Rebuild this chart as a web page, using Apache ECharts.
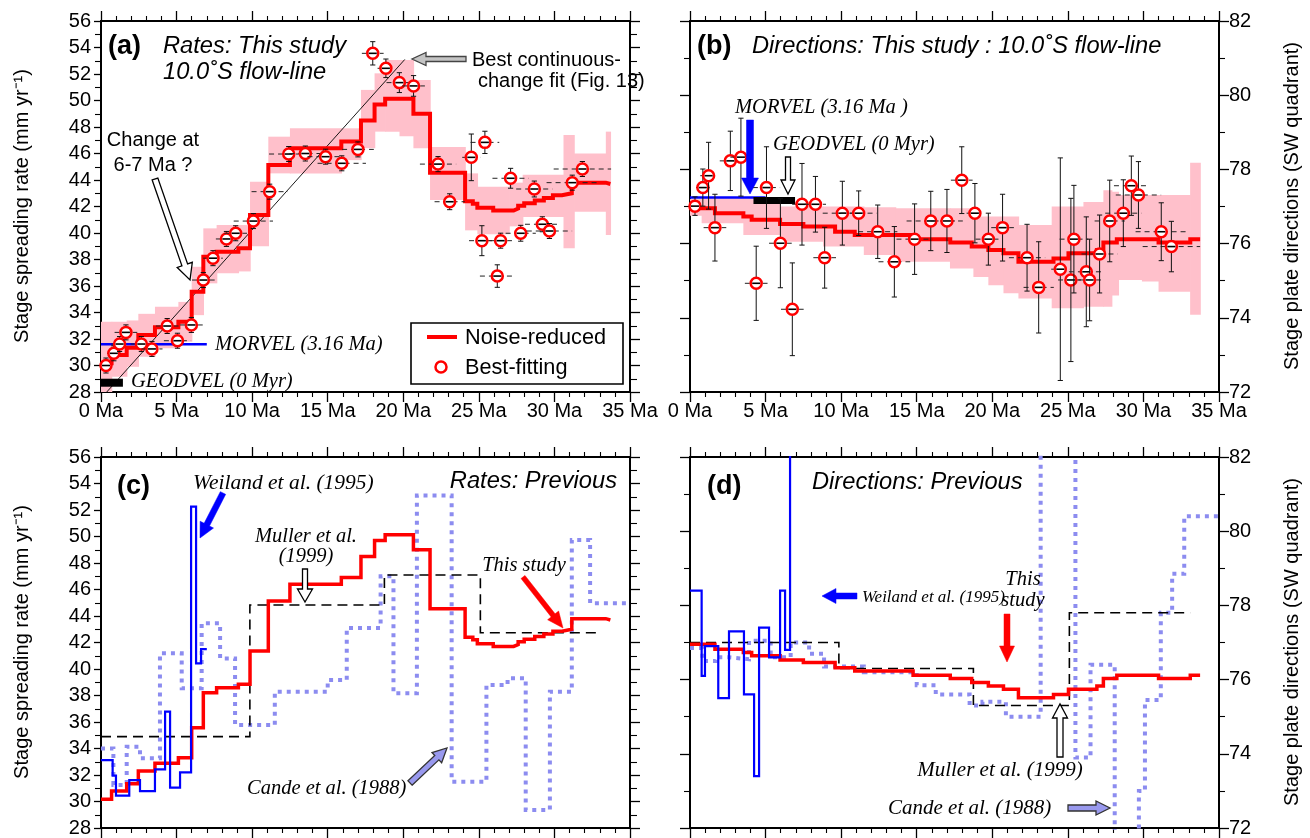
<!DOCTYPE html>
<html>
<head>
<meta charset="utf-8">
<script src="https://cdn.jsdelivr.net/npm/echarts@6.0.0/dist/echarts.min.js"></script>
<style>
  html, body { margin: 0; padding: 0; background: #fff; }
  #chart { width: 1310px; height: 838px; }
</style>
</head>
<body>
<div id="chart"></div>
<script>
// ---------------------------------------------------------------------------
// Best-fitting stage solutions (shared stage ages for rates and directions)
// ---------------------------------------------------------------------------
const stageAge = [0.33, 0.85, 1.23, 1.65, 2.67, 3.37, 4.38, 5.06, 5.98, 6.77,
  7.41, 8.30, 8.91, 10.08, 11.16, 12.42, 13.52, 14.86, 15.93, 17.00,
  17.98, 18.85, 19.74, 20.68, 22.30, 23.07, 24.50, 25.20, 25.40, 26.22,
  26.44, 27.10, 27.77, 28.67, 29.20, 29.67, 31.18, 31.85];
// half of the age window used for each stage (Myr)
const stageHalfWidth = [0.33, 0.45, 0.55, 0.75, 0.7, 0.7, 0.75, 0.9, 0.75, 0.75,
  0.65, 0.7, 0.75, 1.3, 1.2, 1.3, 1.05, 1.2, 1.6, 1.05,
  0.72, 0.55, 0.85, 0.75, 1.2, 1.0, 0.6, 0.85, 0.95, 1.15,
  0.75, 1.2, 1.0, 1.2, 1.15, 1.5, 1.7, 1.9];
const rateBest = [30.0, 30.92, 31.62, 32.5, 31.62, 31.25, 32.98, 31.87, 33.06, 36.45,
  38.1, 39.55, 39.98, 40.9, 43.12, 45.96, 46.0, 45.76, 45.26, 46.31,
  53.56, 52.43, 51.35, 51.1, 45.2, 42.36, 45.71, 39.42, 46.84, 36.75,
  39.42, 44.13, 39.98, 43.32, 40.66, 40.15, 43.8, 44.83];
const rateErr = [0.3, 0.3, 0.35, 0.35, 0.3, 0.3, 0.3, 0.3, 0.3, 0.35,
  0.4, 0.4, 0.4, 0.4, 0.4, 0.4, 0.35, 0.35, 0.35, 0.45,
  0.88, 0.7, 0.75, 0.78, 0.57, 0.6, 1.76, 1.13, 0.84, 0.85,
  0.55, 0.75, 0.6, 0.6, 0.55, 0.55, 0.35, 0.4];
const dirBest = [77.01, 77.51, 77.83, 76.43, 78.23, 78.33, 74.93, 77.51, 76.01, 74.23,
  77.06, 77.06, 75.62, 76.82, 76.82, 76.32, 75.51, 76.12, 76.61, 76.61,
  77.71, 76.82, 76.12, 76.43, 75.62, 74.82, 75.31, 75.02, 76.12, 75.24,
  75.02, 75.72, 76.61, 76.82, 77.56, 77.31, 76.32, 75.92];
const dirErr = [0.25, 0.5, 0.9, 0.9, 0.8, 1.05, 1.0, 1.1, 1.2, 1.25,
  1.1, 0.75, 0.82, 0.86, 0.6, 0.72, 0.95, 0.95, 0.8, 0.85,
  0.9, 0.8, 0.7, 0.9, 0.9, 1.23, 3.0, 2.2, 1.45, 1.48,
  1.1, 1.05, 1.1, 0.9, 0.8, 0.9, 0.78, 0.68];

// ---------------------------------------------------------------------------
// Noise-reduced solutions: stage edges (Ma) and the value held over each stage
// ---------------------------------------------------------------------------
const nrRateEdges = [0, 0.7, 1.7, 2.47, 3.57, 5.12, 6.0, 6.77, 7.65, 9.09, 9.86, 11.07,
  12.5, 15.9, 17.2, 18.1, 18.8, 20.67, 21.77, 24.09, 24.6, 24.9, 25.95, 27.3, 27.6,
  28.0, 28.7, 29.3, 29.9, 30.5, 31.15, 33.4, 33.7];
const nrRate = [30.17, 30.8, 31.34, 32.3, 32.88, 33.3, 35.57, 38.21, 38.59, 38.84, 41.36,
  45.13, 46.39, 46.9, 48.5, 49.7, 50.13, 49.0, 44.55, 42.4, 42.2, 41.9, 41.7, 41.85,
  42.05, 42.25, 42.45, 42.65, 42.85, 43.0, 43.8, 43.7];
const nrDirEdges = [0, 1.65, 3.53, 4.08, 5.96, 7.5, 9.6, 10.9, 14.76, 17.22, 18.64, 19.74,
  20.74, 21.73, 24.05, 25.04, 26.92, 27.35, 28.24, 31.0, 33.1, 33.75];
const nrDir = [76.95, 76.82, 76.73, 76.64, 76.53, 76.46, 76.32, 76.23, 76.12, 76.03, 75.92,
  75.83, 75.74, 75.51, 75.6, 75.74, 75.83, 76.03, 76.12, 76.03, 76.12];

// Uncertainty envelopes: [fromAge, toAge, low, high]
const rateBand = [
  [0, 0.7, 28.0, 33.3], [0.7, 1.7, 29.15, 33.3], [1.7, 2.47, 29.9, 33.4],
  [2.47, 3.57, 30.66, 33.9], [3.57, 5.12, 31.3, 34.43], [5.12, 6.0, 31.8, 34.8],
  [6.0, 6.77, 33.8, 37.45], [6.77, 7.65, 36.2, 40.35], [7.65, 9.09, 36.96, 40.6],
  [9.09, 9.86, 37.1, 40.6], [9.86, 11.07, 39.0, 43.87], [11.07, 12.5, 44.5, 47.27],
  [12.5, 15.9, 44.5, 47.9], [15.9, 17.2, 45.5, 47.9], [17.2, 18.1, 46.4, 50.8],
  [18.1, 18.8, 47.65, 52.05], [18.8, 19.75, 47.65, 53.06], [19.75, 20.67, 47.3, 53.06],
  [20.67, 21.77, 46.4, 51.55], [21.77, 24.09, 42.5, 46.5], [24.09, 24.9, 40.2, 44.5],
  [24.9, 27.0, 39.9, 43.5], [27.0, 27.9, 40.5, 43.8], [27.9, 30.6, 41.2, 44.4],
  [30.6, 31.3, 38.84, 47.4], [31.3, 33.4, 41.6, 46.0], [33.4, 33.7, 39.85, 47.65]
];
const dirBand = [
  [0, 0.77, 76.75, 77.2], [0.77, 3.53, 76.55, 77.22], [3.53, 5.96, 76.23, 77.22],
  [5.96, 8.8, 76.05, 77.0], [8.8, 11.5, 75.92, 77.0], [11.5, 13.6, 75.69, 76.98],
  [13.6, 17.2, 75.51, 76.95], [17.2, 18.75, 75.33, 76.95], [18.75, 19.74, 75.1, 76.73],
  [19.74, 20.74, 74.88, 76.73], [20.74, 21.73, 74.66, 76.73], [21.73, 23.93, 74.52, 76.5],
  [23.93, 26.03, 74.26, 77.0], [26.03, 27.35, 74.3, 77.12], [27.35, 27.9, 74.3, 77.44],
  [27.9, 28.34, 74.6, 77.4], [28.34, 29.9, 75.02, 77.31], [29.9, 31.0, 74.98, 77.31],
  [31.0, 33.09, 74.7, 77.31], [33.09, 33.75, 74.08, 78.18]
];

// Best continuous-change fit (age, rate)
const bestFitLine = [[0.38, 28.0], [20.1, 53.1]];

// Present-day reference models: value and the age span it is drawn over
const morvelRate = 31.6, morvelRateSpan = [0, 7.0];
const geodvelRate = 28.7, geodvelRateSpan = [0, 1.45];
const morvelDir = 77.24, morvelDirSpan = [0, 5.0];
const geodvelDir = 77.16, geodvelDirSpan = [4.2, 6.95];

// ---------------------------------------------------------------------------
// Previous studies (stage edges in Ma, then rate and direction per stage)
// ---------------------------------------------------------------------------
const mullerEdges = [0, 9.85, 18.75, 25.1, 33.1];
const mullerRate = [34.9, 44.83, 47.09, 42.74];
const mullerDir = [77.0, 76.3, 75.3, 77.8];

const weilandEdges = [0, 0.77, 0.99, 1.87, 2.58, 3.57, 4.24, 4.57, 5.23, 5.96, 6.29, 6.62, 7.0];
const weilandRate = [33.13, 31.95, 30.44, 31.62, 30.79, 32.42, 36.78, 31.04, 32.2, 52.25, 40.43, 41.5];
const weilandDir = [78.4, 76.1, 76.9, 75.5, 77.3, 75.6, 73.4, 77.4, 76.6, 78.4, 76.8, 86.0];

const candeRateEdges = [0, 0.82, 1.7, 2.58, 3.9, 5.34, 6.66, 7.88, 8.87, 11.5, 15.0, 16.26,
  18.5, 19.35, 20.9, 23.2, 25.5, 26.9, 28.1, 29.7, 31.15, 32.36, 35];
const candeRate = [34.0, 31.25, 34.13, 33.26, 41.18, 38.54, 43.45, 40.8, 35.77, 38.29, 39.17,
  43.1, 47.0, 38.17, 53.1, 31.5, 38.8, 39.3, 29.36, 38.29, 49.74, 44.96];
const candeDirEdges = [0, 0.82, 1.7, 2.58, 3.9, 5.34, 6.66, 7.88, 8.87, 11.5, 15.0, 16.26,
  18.5, 19.35, 20.9, 23.2, 25.5, 26.5, 28.1, 29.7, 30.1, 31.15, 31.9, 32.7, 35];
const candeDir = [76.85, 76.5, 76.6, 76.55, 77.05, 76.6, 77.0, 76.7, 76.35, 76.2, 75.85, 75.6,
  75.3, 75.4, 75.0, 84.0, 73.9, 76.4, 70.0, 73.0, 75.45, 77.8, 78.85, 80.4];

// Axis ranges and tick labels
const ageRange = [0, 35], ageStep = 5;
const rateRange = [28, 56], dirRange = [72, 82], valueStep = 2;
const ageLabel = v => v + ' Ma';

// ---------------------------------------------------------------------------
const SANS = '"Liberation Sans", Arial, Helvetica, sans-serif';
const SERIF = '"Liberation Serif", "Times New Roman", serif';
const RED = '#ff0000', BLUE = '#0000ff', PINK = '#ffc0cb', LILAC = '#8c8cf0';

function steps(edges, values) {
  const out = values.map((v, i) => [edges[i], v]);
  out.push([edges[edges.length - 1], values[values.length - 1]]);
  return out;
}
function bestRows(vals, errs) {
  return stageAge.map((t, i) => [t, vals[i], errs[i], stageHalfWidth[i]]);
}

const grids = [
  { left: 101, top: 21, width: 529, height: 371 },
  { left: 690, top: 21, width: 529, height: 371 },
  { left: 101, top: 457, width: 529, height: 371 },
  { left: 690, top: 457, width: 529, height: 371 }
].map(g => Object.assign({ containLabel: false, outerBoundsMode: 'none' }, g));

function xAxis(g, pos, labels) {
  return {
    gridIndex: g, type: 'value', position: pos, min: ageRange[0], max: ageRange[1], interval: ageStep,
    axisLine: { show: true, onZero: false, lineStyle: { color: '#000', width: 2 } },
    axisTick: { show: true, inside: false, length: 10, lineStyle: { color: '#000', width: 1.3 } },
    minorTick: { show: true, splitNumber: 5, length: 5, lineStyle: { color: '#000', width: 1.1 } },
    splitLine: { show: false }, minorSplitLine: { show: false },
    axisLabel: { show: labels, margin: 9, formatter: ageLabel, color: '#000', fontSize: 20,
      fontFamily: SANS, showMinLabel: true, showMaxLabel: true }
  };
}
function yAxis(g, pos, range, labels, len, minorLen) {
  return {
    gridIndex: g, type: 'value', position: pos, min: range[0], max: range[1], interval: valueStep,
    axisLine: { show: true, onZero: false, lineStyle: { color: '#000', width: 2 } },
    axisTick: { show: true, inside: false, length: len, lineStyle: { color: '#000', width: 1.3 } },
    minorTick: { show: true, splitNumber: 2, length: minorLen, lineStyle: { color: '#000', width: 1.1 } },
    splitLine: { show: false }, minorSplitLine: { show: false },
    axisLabel: { show: labels, margin: 10, color: '#000', fontSize: 20, fontFamily: SANS,
      showMinLabel: true, showMaxLabel: true }
  };
}

const xAxes = [], yAxes = [];
[0, 1, 2, 3].forEach(g => {
  xAxes.push(xAxis(g, 'bottom', g < 2));
  xAxes.push(xAxis(g, 'top', false));
  const isRate = g % 2 === 0;
  const range = isRate ? rateRange : dirRange;
  yAxes.push(yAxis(g, 'left', range, isRate, isRate ? 7 : 10, 6));
  yAxes.push(yAxis(g, 'right', range, !isRate, 10, isRate ? 7 : 6));
});

// envelope rectangles
function renderBand(params, api) {
  const a = api.coord([api.value(0), api.value(3)]);
  const b = api.coord([api.value(1), api.value(2)]);
  return { type: 'rect', shape: { x: a[0], y: a[1], width: b[0] - a[0] + 0.7, height: b[1] - a[1] },
    style: { fill: PINK } };
}
// best-fitting stage: age window, error bar and circle
function renderBest(params, api) {
  const t = api.value(0), v = api.value(1), e = api.value(2), h = api.value(3);
  const c = api.coord([t, v]);
  const hi = api.coord([t, v + e]);
  const lo = api.coord([t, v - e]);
  const l = api.coord([t - h, v]);
  const r = api.coord([t + h, v]);
  const R = 5.5, cap = 2.6;
  const ink = { stroke: '#111', lineWidth: 1 };
  const top = Math.min(hi[1], c[1] - R - 2);
  const bot = Math.max(lo[1], c[1] + R + 2);
  const ch = [
    { type: 'line', shape: { x1: l[0], y1: c[1], x2: r[0], y2: c[1] },
      style: { stroke: '#222', lineWidth: 1, lineDash: [5, 4] } },
    { type: 'line', shape: { x1: c[0], y1: top, x2: c[0], y2: bot }, style: ink },
    { type: 'line', shape: { x1: c[0] - cap, y1: top, x2: c[0] + cap, y2: top }, style: ink },
    { type: 'line', shape: { x1: c[0] - cap, y1: bot, x2: c[0] + cap, y2: bot }, style: ink },
    { type: 'circle', shape: { cx: c[0], cy: c[1], r: R }, style: { fill: '#fff', stroke: RED, lineWidth: 2.5 } },
    { type: 'line', shape: { x1: c[0] - R + 1.5, y1: c[1], x2: c[0] + R - 1.5, y2: c[1] },
      style: { stroke: '#000', lineWidth: 1.6 } }
  ];
  return { type: 'group', children: ch };
}

function bandSeries(g, data) {
  return { type: 'custom', xAxisIndex: 2 * g, yAxisIndex: 2 * g, data, renderItem: renderBand,
    encode: { x: [0, 1], y: [2, 3] }, silent: true, z: 1 };
}
function bestSeries(g, data) {
  return { type: 'custom', xAxisIndex: 2 * g, yAxisIndex: 2 * g, data, renderItem: renderBest,
    encode: { x: 0, y: 1 }, silent: true, z: 6 };
}
function lineSeries(g, data, color, width, type, z, step) {
  return { type: 'line', xAxisIndex: 2 * g, yAxisIndex: 2 * g, data, step: step || false,
    symbol: 'none', clip: true, silent: true, z: z,
    lineStyle: { color, width, type: type || 'solid', cap: 'butt', join: 'miter' } };
}
function spanLine(span, v) { return [[span[0], v], [span[1], v]]; }

const series = [
  // (a) rates, this study
  bandSeries(0, rateBand),
  lineSeries(0, bestFitLine, '#000', 0.9, 'solid', 2),
  lineSeries(0, spanLine(morvelRateSpan, morvelRate), BLUE, 2.5, 'solid', 3),
  lineSeries(0, spanLine(geodvelRateSpan, geodvelRate), '#000', 8, 'solid', 3),
  lineSeries(0, steps(nrRateEdges, nrRate), RED, 4, 'solid', 4, 'end'),
  bestSeries(0, bestRows(rateBest, rateErr)),
  // (b) directions, this study
  bandSeries(1, dirBand),
  lineSeries(1, spanLine(morvelDirSpan, morvelDir), BLUE, 2.5, 'solid', 3),
  lineSeries(1, spanLine(geodvelDirSpan, geodvelDir), '#000', 7, 'solid', 3),
  lineSeries(1, steps(nrDirEdges, nrDir), RED, 4, 'solid', 4, 'end'),
  bestSeries(1, bestRows(dirBest, dirErr)),
  // (c) rates, previous
  lineSeries(2, steps(candeRateEdges, candeRate), LILAC, 4, [4, 5], 2, 'end'),
  lineSeries(2, steps(mullerEdges, mullerRate), '#000', 1.6, [10, 6], 3, 'end'),
  lineSeries(2, steps(nrRateEdges, nrRate), RED, 3.5, 'solid', 4, 'end'),
  lineSeries(2, steps(weilandEdges, weilandRate), BLUE, 2.2, 'solid', 5, 'end'),
  // (d) directions, previous
  lineSeries(3, steps(candeDirEdges, candeDir), LILAC, 4, [4, 5], 2, 'end'),
  lineSeries(3, steps(mullerEdges, mullerDir), '#000', 1.6, [10, 6], 3, 'end'),
  lineSeries(3, steps(nrDirEdges, nrDir), RED, 3.5, 'solid', 4, 'end'),
  lineSeries(3, steps(weilandEdges, weilandDir), BLUE, 2.2, 'solid', 5, 'end')
];

// ---------------------------------------------------------------------------
// Annotations
// ---------------------------------------------------------------------------
function txt(x, y, text, font, align, rot) {
  return { type: 'text', x, y, rotation: rot || 0, z: 100,
    style: { text, fill: '#000', font, align: align || 'left', verticalAlign: 'middle' } };
}
function arrow(x1, y1, x2, y2, sw, hw, hl, fill, stroke) {
  const dx = x2 - x1, dy = y2 - y1, L = Math.hypot(dx, dy);
  const ux = dx / L, uy = dy / L, px = -uy, py = ux;
  const bx = x2 - ux * hl, by = y2 - uy * hl;
  const pts = [
    [x1 + px * sw / 2, y1 + py * sw / 2], [bx + px * sw / 2, by + py * sw / 2],
    [bx + px * hw / 2, by + py * hw / 2], [x2, y2],
    [bx - px * hw / 2, by - py * hw / 2], [bx - px * sw / 2, by - py * sw / 2],
    [x1 - px * sw / 2, y1 - py * sw / 2]
  ];
  return { type: 'polygon', z: 100, shape: { points: pts },
    style: { fill, stroke: stroke || fill, lineWidth: stroke ? 1.3 : 0.5 } };
}
const TITLE = 'bold 27px ' + SANS;
const HEAD = 'italic 23.7px ' + SANS;
const NOTE = '20px ' + SANS;
const KEY = '21.7px ' + SANS;
const CITE = 'italic 20.5px ' + SERIF;
const AXT = '20px ' + SANS;

const graphics = [
  // axis titles
  txt(22, 206, 'Stage spreading rate (mm yr\u207B\u00B9)', AXT, 'center', Math.PI / 2),
  txt(22, 642, 'Stage spreading rate (mm yr\u207B\u00B9)', AXT, 'center', Math.PI / 2),
  txt(1292, 206, 'Stage plate directions (SW quadrant)', AXT, 'center', Math.PI / 2),
  txt(1292, 642, 'Stage plate directions (SW quadrant)', AXT, 'center', Math.PI / 2),

  // (a)
  txt(108, 47, '(a)', TITLE),
  txt(163, 46, 'Rates: This study', HEAD),
  txt(163, 72, '10.0\u02DAS flow-line', HEAD),
  txt(153, 140, 'Change at', NOTE, 'center'),
  txt(153, 165, '6-7 Ma ?', NOTE, 'center'),
  arrow(155, 179, 190, 280, 6, 16, 16, '#fff', '#000'),
  arrow(466, 59, 412, 59, 5, 13, 14, '#c4c4c4', '#444'),
  txt(472, 60, 'Best continuous-', NOTE),
  txt(478, 81, 'change fit (Fig. 13)', NOTE),
  txt(215, 345, 'MORVEL (3.16 Ma)', CITE),
  txt(131, 382, 'GEODVEL (0 Myr)', CITE),
  { type: 'rect', z: 100, shape: { x: 411, y: 323, width: 212, height: 61 },
    style: { fill: '#fff', stroke: '#000', lineWidth: 1.6 } },
  { type: 'line', z: 101, shape: { x1: 427, y1: 337, x2: 457, y2: 337 }, style: { stroke: RED, lineWidth: 4 } },
  txt(465, 338, 'Noise-reduced', KEY),
  { type: 'circle', z: 101, shape: { cx: 441, cy: 367, r: 5.5 }, style: { fill: '#fff', stroke: RED, lineWidth: 2.5 } },
  txt(465, 368, 'Best-fitting', KEY),

  // (b)
  txt(697, 47, '(b)', TITLE),
  txt(752, 46, 'Directions: This study : 10.0\u02DAS flow-line', HEAD),
  txt(735, 108, 'MORVEL (3.16 Ma )', CITE),
  arrow(750, 120, 750, 194, 7, 17, 16, BLUE),
  txt(773, 145, 'GEODVEL (0 Myr)', CITE),
  arrow(788, 157, 788, 194, 5, 14, 14, '#fff', '#000'),

  // (c)
  txt(117, 487, '(c)', TITLE),
  txt(617, 481, 'Rates: Previous', HEAD, 'right'),
  txt(193, 483, 'Weiland et al. (1995)', 'italic 21.5px ' + SERIF),
  arrow(223, 493, 200, 538, 6, 15, 15, BLUE),
  txt(306, 537, 'Muller et al.', CITE, 'center'),
  txt(306, 557, '(1999)', CITE, 'center'),
  arrow(305, 569, 305, 602, 5, 15, 13, '#fff', '#000'),
  txt(524, 566, 'This study', CITE, 'center'),
  arrow(523, 577, 563, 628, 5, 14, 16, RED),
  txt(247, 789, 'Cande et al. (1988)', CITE),
  arrow(410, 783, 447, 748, 6, 14, 14, '#9999ee', '#333'),

  // (d)
  txt(707, 487, '(d)', TITLE),
  txt(812, 482, 'Directions: Previous', HEAD),
  arrow(857, 596, 822, 596, 6, 15, 14, BLUE),
  txt(862, 598, 'Weiland et al. (1995)', 'italic 17px ' + SERIF),
  txt(1023, 580, 'This', CITE, 'center'),
  txt(1023, 601, 'study', CITE, 'center'),
  arrow(1007, 614, 1007, 662, 6, 15, 16, RED),
  arrow(1060, 757, 1060, 704, 6, 15, 14, '#fff', '#000'),
  txt(1000, 770, 'Muller et al. (1999)', 'italic 21px ' + SERIF, 'center'),
  txt(888, 808, 'Cande et al. (1988)', 'italic 21px ' + SERIF),
  arrow(1068, 808, 1110, 808, 6, 14, 14, '#9999ee', '#333')
];

const chart = echarts.init(document.getElementById('chart'), null, { renderer: 'canvas' });
chart.setOption({
  animation: false,
  backgroundColor: '#fff',
  textStyle: { fontFamily: SANS },
  grid: grids,
  xAxis: xAxes,
  yAxis: yAxes,
  series,
  graphic: { elements: graphics }
});
</script>
</body>
</html>
